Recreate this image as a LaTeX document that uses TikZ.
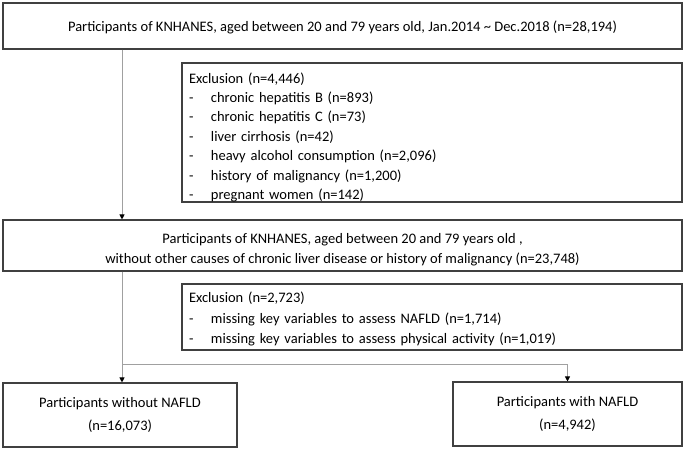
\documentclass[tikz,border=0pt]{standalone}
\usepackage{fontspec}
\setmainfont{Carlito}
\usetikzlibrary{arrows.meta}
\definecolor{boxline}{HTML}{404040}
\definecolor{connline}{HTML}{A0A0A0}
\begin{document}
\begin{tikzpicture}[x=1pt,y=-1pt,
  box/.style={draw=boxline, line width=1.1pt, rectangle, inner sep=0pt, align=center,
    font=\fontsize{14.5}{20}\selectfont},
  exbox/.style={draw=boxline, line width=1.1pt, rectangle, inner xsep=7pt, inner ysep=0pt, align=left,
    text width=486pt, font=\fontsize{14.5}{19.4}\selectfont},
  conn/.style={draw=connline, line width=1pt},
  arr/.style={conn, -{Triangle[width=5pt,length=5pt,fill=black,color=black]}}
]
\useasboundingbox (0,0) rectangle (685,449);
\newcommand{\itm}[1]{\makebox[22pt][l]{-}#1}
\newcommand{\pushdown}[1]{\rule{0pt}{#1}}
\node[box, minimum width=679pt, minimum height=46pt] (top) at (342.5,26)
  {\pushdown{14pt}Participants of KNHANES, aged between 20 and 79 years old, Jan.2014 \textasciitilde{} Dec.2018 (n=28,194)};
\node[exbox, minimum height=139pt] (ex1) at (432,132.5)
  {\pushdown{20pt}Exclusion (n=4,446)\\
   \itm{chronic hepatitis B (n=893)}\\
   \itm{chronic hepatitis C (n=73)}\\
   \itm{liver cirrhosis (n=42)}\\
   \itm{heavy alcohol consumption (n=2,096)}\\
   \itm{history of malignancy (n=1,200)}\\
   \itm{pregnant women (n=142)}};
\node[box, minimum width=679pt, minimum height=51pt] (mid) at (342.5,245.5)
  {\pushdown{18pt}Participants of KNHANES, aged between 20 and 79 years old ,\\
   without other causes of chronic liver disease or history of malignancy (n=23,748)};
\node[exbox, minimum height=66pt, font=\fontsize{14.5}{20.5}\selectfont] (ex2) at (432,317)
  {\pushdown{15pt}Exclusion (n=2,723)\\
   \itm{missing key variables to assess NAFLD (n=1,714)}\\
   \itm{missing key variables to assess physical activity (n=1,019)}};
\node[box, minimum width=234pt, minimum height=64pt, font=\fontsize{14.5}{23}\selectfont] (left) at (120,415)
  {Participants without NAFLD\\(n=16,073)};
\node[box, minimum width=229pt, minimum height=64pt, font=\fontsize{14.5}{23}\selectfont] (right) at (567.5,414)
  {Participants with NAFLD\\(n=4,942)};
\coordinate (trunk) at (122,0);
\coordinate (split) at (122,364);
\draw[arr] (top.south -| trunk) -- (mid.north -| trunk);
\draw[arr] (mid.south -| trunk) -- (left.north -| trunk);
\draw[arr] (split) -| (right.north);
\end{tikzpicture}
\end{document}
